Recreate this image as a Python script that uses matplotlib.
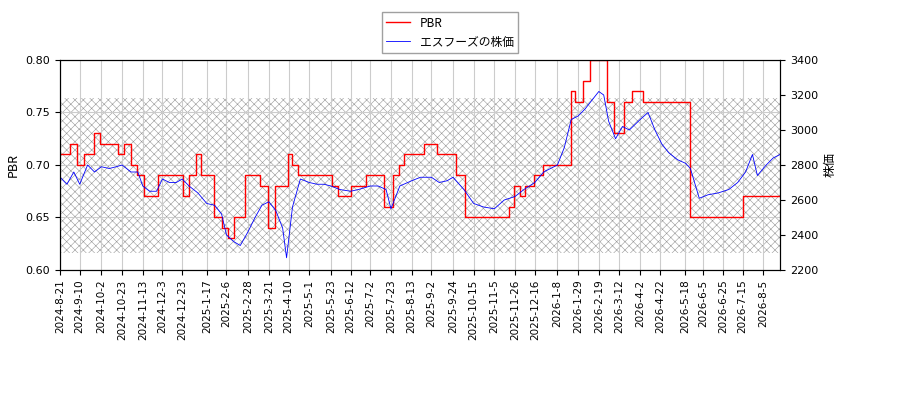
import matplotlib
matplotlib.use("Agg")
import matplotlib.pyplot as plt
import pandas as pd

plt.rcParams['font.family'] = ['Noto Sans CJK JP', 'DejaVu Sans']
plt.rcParams['hatch.linewidth'] = 0.4
plt.rcParams['hatch.color'] = '#888888'

pbr_dates = ["2024-08-21","2024-08-31","2024-09-07","2024-09-14","2024-09-24","2024-10-01","2024-10-19",
 "2024-10-25","2024-11-01","2024-11-07","2024-11-14","2024-11-28","2024-12-24","2024-12-30",
 "2025-01-06","2025-01-11","2025-01-24","2025-02-01","2025-02-08","2025-02-14","2025-02-25",
 "2025-03-12","2025-03-20","2025-03-27","2025-04-09","2025-04-14","2025-04-20","2025-05-24",
 "2025-05-30","2025-06-12","2025-06-28","2025-07-16","2025-07-25","2025-07-31","2025-08-05",
 "2025-08-26","2025-09-08","2025-09-27","2025-10-06","2025-11-20","2025-11-25","2025-12-01",
 "2025-12-06","2025-12-15","2025-12-24","2026-01-22","2026-01-26","2026-02-03","2026-02-10",
 "2026-02-27","2026-03-06","2026-03-17","2026-03-25","2026-04-05","2026-05-23","2026-07-15","2026-08-22"]
pbr_vals = [0.71,0.72,0.70,0.71,0.73,0.72,0.71,
 0.72,0.70,0.69,0.67,0.69,0.67,0.69,
 0.71,0.69,0.65,0.64,0.63,0.65,0.69,
 0.68,0.64,0.68,0.71,0.70,0.69,0.68,
 0.67,0.68,0.69,0.66,0.69,0.70,0.71,
 0.72,0.71,0.69,0.65,0.66,0.68,0.67,
 0.68,0.69,0.70,0.77,0.76,0.78,0.80,
 0.76,0.73,0.76,0.77,0.76,0.65,0.67,0.67]

price_dates = ["2024-08-21","2024-08-28","2024-09-04","2024-09-10","2024-09-18","2024-09-25","2024-10-02",
 "2024-10-10","2024-10-17","2024-10-23","2024-11-01","2024-11-08","2024-11-13","2024-11-20","2024-11-27",
 "2024-12-03","2024-12-10","2024-12-17","2024-12-23","2024-12-30","2025-01-08","2025-01-17","2025-01-25",
 "2025-02-01","2025-02-06","2025-02-14","2025-02-20","2025-02-28","2025-03-07","2025-03-14","2025-03-21",
 "2025-03-28","2025-04-04","2025-04-08","2025-04-14","2025-04-22","2025-05-01","2025-05-09","2025-05-16",
 "2025-05-23","2025-06-01","2025-06-12","2025-06-20","2025-07-02","2025-07-10","2025-07-18","2025-07-23",
 "2025-08-01","2025-08-13","2025-08-22","2025-09-02","2025-09-10","2025-09-18","2025-09-24","2025-10-05",
 "2025-10-15","2025-10-25","2025-11-05","2025-11-15","2025-11-26","2025-12-05","2025-12-16","2025-12-25",
 "2026-01-08","2026-01-15","2026-01-22","2026-01-29","2026-02-05","2026-02-12","2026-02-19","2026-02-24",
 "2026-03-01","2026-03-08","2026-03-15","2026-03-22","2026-04-02","2026-04-10","2026-04-17","2026-04-24",
 "2026-05-01","2026-05-10","2026-05-18","2026-05-23","2026-06-01","2026-06-10","2026-06-20","2026-07-01",
 "2026-07-10","2026-07-18","2026-07-25","2026-07-30","2026-08-08","2026-08-15","2026-08-22"]
price_vals = [2730,2690,2760,2690,2800,2760,2790,
 2780,2790,2800,2760,2760,2680,2650,2650,
 2720,2700,2700,2720,2680,2640,2580,2570,
 2520,2400,2360,2340,2420,2500,2570,2590,
 2540,2440,2270,2560,2720,2700,2690,2690,
 2680,2660,2650,2660,2680,2680,2660,2550,
 2680,2710,2730,2730,2700,2710,2730,2660,
 2580,2560,2550,2600,2620,2660,2700,2760,
 2800,2900,3060,3080,3120,3170,3220,3200,
 3050,2950,3020,3000,3060,3100,3000,2920,
 2870,2830,2810,2780,2610,2630,2640,2660,
 2700,2760,2860,2740,2800,2840,2860]

tick_labels = ["2024-8-21","2024-9-10","2024-10-2","2024-10-23","2024-11-13","2024-12-3","2024-12-23",
 "2025-1-17","2025-2-6","2025-2-28","2025-3-21","2025-4-10","2025-5-1","2025-5-23","2025-6-12",
 "2025-7-2","2025-7-23","2025-8-13","2025-9-2","2025-9-24","2025-10-15","2025-11-5","2025-11-26",
 "2025-12-16","2026-1-8","2026-1-29","2026-2-19","2026-3-12","2026-4-2","2026-4-22","2026-5-18",
 "2026-6-5","2026-6-25","2026-7-15","2026-8-5"]

pd_ = pd.to_datetime(pbr_dates)
pr_ = pd.to_datetime(price_dates)
ticks = pd.to_datetime(tick_labels)

fig = plt.figure(figsize=(9, 4), dpi=100)
ax = fig.add_axes([0.0667, 0.325, 0.8, 0.525])
ax2 = ax.twinx()

ax.axhspan(0.616, 0.764, facecolor='none', edgecolor='#999999', hatch='xxxx', lw=0)
ax.step(pd_, pbr_vals, where='post', color='red', lw=1, label='PBR')
ax2.plot(pr_, price_vals, color='blue', lw=0.6, label='エスフーズの株価')

ax.set_xlim(pd.Timestamp("2024-08-21"), pd.Timestamp("2026-08-22"))
ax.set_ylim(0.60, 0.80)
ax.set_yticks([0.60, 0.65, 0.70, 0.75, 0.80])
ax2.set_ylim(2200, 3400)
ax.set_xticks(ticks)
ax.set_xticklabels(tick_labels, rotation=90, fontsize=7.5, family='DejaVu Sans')
for a in (ax, ax2):
    for t in a.get_yticklabels():
        t.set_family('DejaVu Sans')
    a.tick_params(axis='y', labelsize=8)
ax.grid(True, color='#cccccc', lw=0.8)
ax.set_ylabel('PBR', fontsize=9)
ax2.set_ylabel('株価', fontsize=9)

h1, l1 = ax.get_legend_handles_labels()
h2, l2 = ax2.get_legend_handles_labels()
fig.legend(h1 + h2, l1 + l2, loc='upper center', bbox_to_anchor=(0.5, 0.985), fontsize=8.5,
           fancybox=False, edgecolor='#888888')
fig.savefig('out.png', dpi=100)
